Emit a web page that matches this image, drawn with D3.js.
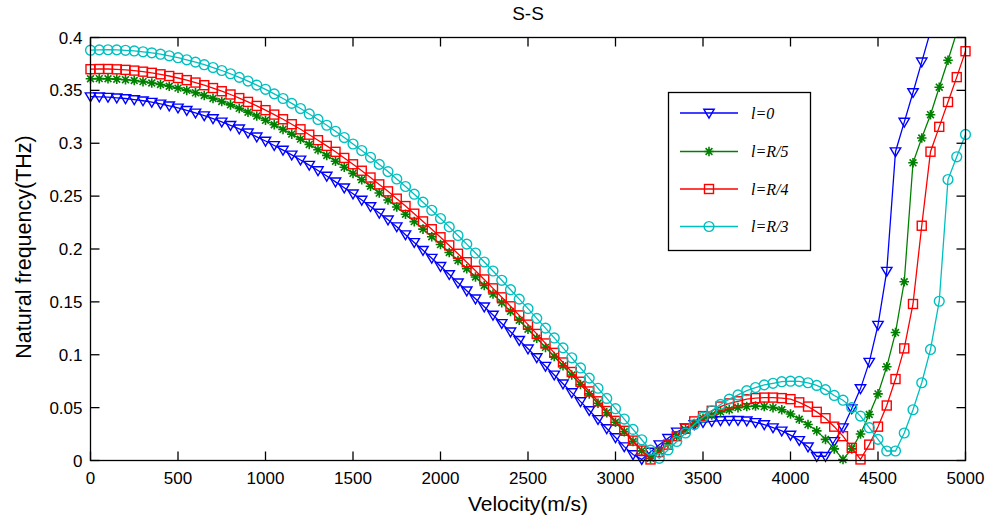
<!doctype html>
<html>
<head>
<meta charset="utf-8">
<style>
  body { margin: 0; background: #fff; }
  svg { display: block; }
  text { font-family: "Liberation Sans", Arial, sans-serif; fill: #000; }
</style>
<script src="https://cdn.jsdelivr.net/npm/d3@7"></script>
</head>
<body>
<script>
// velocity samples (m/s), one marker each
var velocity = [0,50,100,150,200,250,300,350,400,450,500,550,600,650,700,750,800,850,900,950,
  1000,1050,1100,1150,1200,1250,1300,1350,1400,1450,1500,1550,1600,1650,1700,1750,1800,1850,1900,1950,
  2000,2050,2100,2150,2200,2250,2300,2350,2400,2450,2500,2550,2600,2650,2700,2750,2800,2850,2900,2950,
  3000,3050,3100,3150,3200,3250,3300,3350,3400,3450,3500,3550,3600,3650,3700,3750,3800,3850,3900,3950,
  4000,4050,4100,4150,4200,4250,4300,4350,4400,4450,4500,4550,4600,4650,4700,4750,4800,4850,4900,4950,5000];

// natural frequency (THz)
var freqL0 = [0.344,0.3439,0.3436,0.3430,0.3423,0.3413,0.3402,0.3388,0.3372,0.3354,
  0.3334,0.3311,0.3287,0.3261,0.3233,0.3202,0.3170,0.3136,0.3099,0.3061,
  0.3021,0.2979,0.2935,0.2890,0.2842,0.2793,0.2742,0.2690,0.2635,0.2579,
  0.2522,0.2463,0.2402,0.2340,0.2276,0.2211,0.2135,0.2062,0.1988,0.1913,
  0.1836,0.1759,0.1680,0.1605,0.1529,0.1453,0.1375,0.1296,0.1217,0.1137,
  0.1056,0.0974,0.0892,0.0809,0.0725,0.0642,0.0557,0.0473,0.0388,0.0302,
  0.0217,0.0131,0.0056,0.001,
  0.008,0.015,0.021,0.027,0.031,0.034,0.036,0.037,0.0378,0.038,0.038,0.0375,0.036,0.034,0.031,0.028,
  0.024,0.019,0.013,0.004,0.004,0.018,0.031,0.049,0.068,0.093,0.128,0.179,0.292,0.320,0.348,0.377,0.406];

var freqR5 = [0.361,0.3611,0.3610,0.3606,0.3601,0.3593,0.3583,0.3570,0.3556,0.3539,
  0.3521,0.3500,0.3477,0.3452,0.3424,0.3395,0.3363,0.3330,0.3294,0.3257,
  0.3217,0.3175,0.3131,0.3086,0.3039,0.2989,0.2938,0.2885,0.2830,0.2773,
  0.2715,0.2655,0.2593,0.2529,0.2464,0.2397,0.2329,0.2259,0.2188,0.2116,
  0.2042,0.1967,0.1891,0.1813,0.1735,0.1655,0.1574,0.1493,0.1410,0.1326,
  0.1241,0.1156,0.1070,0.0984,0.0896,0.0808,0.0719,0.0630,0.0542,0.0452,
  0.0362,0.0272,0.0181,0.0091,0.002,
  0.009,0.016,0.023,0.029,0.035,0.040,0.043,0.046,0.048,0.050,0.051,0.0515,0.051,0.050,0.048,
  0.044,0.039,0.034,0.028,0.020,0.011,0.001,0.011,0.025,0.0435,0.063,0.0886,0.121,0.169,0.2815,
  0.305,0.327,0.353,0.3785,0.405];

var freqR4 = [0.370,0.3702,0.3702,0.3699,0.3694,0.3687,0.3677,0.3666,0.3652,0.3636,
  0.3617,0.3597,0.3574,0.3549,0.3522,0.3492,0.3461,0.3427,0.3391,0.3353,
  0.3313,0.3271,0.3227,0.3180,0.3132,0.3081,0.3029,0.2975,0.2919,0.2861,
  0.2801,0.2740,0.2676,0.2611,0.2545,0.2476,0.2406,0.2334,0.2261,0.2187,
  0.2111,0.2034,0.1955,0.1875,0.1794,0.1712,0.1628,0.1543,0.1458,0.1372,
  0.1285,0.1197,0.1107,0.1018,0.0927,0.0837,0.0745,0.0653,0.0560,0.0468,
  0.0375,0.0281,0.0188,0.0094,0.001,
  0.008,0.015,0.023,0.030,0.037,0.042,0.047,0.051,0.054,0.056,0.058,0.059,0.0595,0.0595,0.059,
  0.058,0.055,0.051,0.046,0.040,0.032,0.023,0.012,0.001,0.015,0.032,0.052,0.077,0.106,0.148,
  0.222,0.292,0.3155,0.339,0.3625,0.387];

var freqR3 = [0.388,0.3883,0.3884,0.3883,0.3879,0.3873,0.3865,0.3855,0.3842,0.3827,
  0.3809,0.3789,0.3767,0.3743,0.3716,0.3688,0.3657,0.3623,0.3588,0.3550,
  0.3510,0.3467,0.3423,0.3377,0.3328,0.3277,0.3225,0.3170,0.3113,0.3054,
  0.2993,0.2931,0.2867,0.2800,0.2732,0.2662,0.2591,0.2518,0.2443,0.2366,
  0.2288,0.2209,0.2128,0.2046,0.1962,0.1877,0.1792,0.1704,0.1615,0.1526,
  0.1436,0.1344,0.1252,0.1159,0.1065,0.0971,0.0875,0.0779,0.0683,0.0587,
  0.0490,0.0392,0.0294,0.0196,0.0098,0.002,
  0.010,0.018,0.026,0.034,0.041,0.047,0.053,0.058,0.062,0.066,0.069,0.0715,0.073,0.0745,
  0.075,0.0748,0.0735,0.071,0.067,0.0615,0.057,0.050,0.042,0.031,0.020,0.009,0.009,0.026,
  0.048,0.0735,0.105,0.1506,0.2657,0.2872,0.3083];

var seriesNames = ["l=0", "l=R/5", "l=R/4", "l=R/3"];
var xTicks = [0,500,1000,1500,2000,2500,3000,3500,4000,4500,5000];
var yTicks = [0,0.05,0.1,0.15,0.2,0.25,0.3,0.35,0.4];
var yTickLabels = ["0","0.05","0.1","0.15","0.2","0.25","0.3","0.35","0.4"];

(function() {
  var W = 987, H = 521;
  var pLeft = 90.5, pRight = 965.5, pTop = 37.5, pBottom = 460.5;

  var svg = d3.select("body").append("svg")
    .attr("width", W).attr("height", H);

  var x = d3.scaleLinear().domain([0, 5000]).range([pLeft, pRight]);
  var y = d3.scaleLinear().domain([0, 0.4]).range([pBottom, pTop]);

  var series = [
    { name: seriesNames[0], values: freqL0, color: "#0000ff", marker: "tri" },
    { name: seriesNames[1], values: freqR5, color: "#008000", marker: "star" },
    { name: seriesNames[2], values: freqR4, color: "#ff0000", marker: "square" },
    { name: seriesNames[3], values: freqR3, color: "#00bfbf", marker: "circle" }
  ];

  svg.append("defs").append("clipPath").attr("id", "plotclip")
    .append("rect").attr("x", pLeft).attr("y", pTop)
    .attr("width", pRight - pLeft).attr("height", pBottom - pTop);

  // draws one marker shape into a group
  function drawMarker(g, type, color) {
    if (type === "tri") {
      g.append("path").attr("d", "M-5.2,-3.8L5.2,-3.8L0,5Z")
        .attr("fill", "none").attr("stroke", color).attr("stroke-width", 1.4);
    } else if (type === "square") {
      g.append("rect").attr("x", -4.5).attr("y", -4.5).attr("width", 9).attr("height", 9)
        .attr("fill", "none").attr("stroke", color).attr("stroke-width", 1.4);
    } else if (type === "circle") {
      g.append("circle").attr("r", 4.9)
        .attr("fill", "none").attr("stroke", color).attr("stroke-width", 1.4);
    } else {
      g.append("path").attr("d", "M-4.8,0L4.8,0M0,-4.8L0,4.8M-3.4,-3.4L3.4,3.4M-3.4,3.4L3.4,-3.4")
        .attr("stroke", color).attr("stroke-width", 1.6);
    }
  }

  var line = d3.line()
    .x(function(d) { return x(d[0]); })
    .y(function(d) { return y(d[1]); });

  series.forEach(function(s) {
    var pts = s.values.map(function(v, i) { return [velocity[i], v]; });
    svg.append("path")
      .attr("clip-path", "url(#plotclip)")
      .attr("d", line(pts))
      .attr("fill", "none")
      .attr("stroke", s.color)
      .attr("stroke-width", 1.3);
    var mk = svg.append("g");
    pts.filter(function(p) { return p[1] <= 0.4; }).forEach(function(p) {
      var g = mk.append("g").attr("transform", "translate(" + x(p[0]) + "," + y(p[1]) + ")");
      drawMarker(g, s.marker, s.color);
    });
  });

  // axes box with inward ticks on all four sides
  var tickLen = 9;
  var axes = svg.append("g").attr("stroke", "#000").attr("stroke-width", 1.3);
  axes.append("rect").attr("x", pLeft).attr("y", pTop)
    .attr("width", pRight - pLeft).attr("height", pBottom - pTop).attr("fill", "none");
  xTicks.forEach(function(t) {
    axes.append("line").attr("x1", x(t)).attr("x2", x(t)).attr("y1", pBottom).attr("y2", pBottom - tickLen);
    axes.append("line").attr("x1", x(t)).attr("x2", x(t)).attr("y1", pTop).attr("y2", pTop + tickLen);
  });
  yTicks.forEach(function(t) {
    axes.append("line").attr("x1", pLeft).attr("x2", pLeft + tickLen).attr("y1", y(t)).attr("y2", y(t));
    axes.append("line").attr("x1", pRight).attr("x2", pRight - tickLen).attr("y1", y(t)).attr("y2", y(t));
  });

  svg.append("g").selectAll("text").data(xTicks).enter().append("text")
    .attr("x", function(d) { return x(d); })
    .attr("y", 484)
    .attr("text-anchor", "middle")
    .style("font-size", "17px")
    .text(function(d) { return d; });

  svg.append("g").selectAll("text").data(yTicks).enter().append("text")
    .attr("x", pLeft - 8)
    .attr("y", function(d) { return y(d) + 6; })
    .attr("text-anchor", "end")
    .style("font-size", "17px")
    .text(function(d, i) { return yTickLabels[i]; });

  svg.append("text").attr("x", (pLeft + pRight) / 2).attr("y", 511)
    .attr("text-anchor", "middle").style("font-size", "21px").text("Velocity(m/s)");

  svg.append("text").attr("transform", "translate(31,247) rotate(-90)")
    .attr("text-anchor", "middle").style("font-size", "21.5px").text("Natural frequency(THz)");

  svg.append("text").attr("x", (pLeft + pRight) / 2).attr("y", 20)
    .attr("text-anchor", "middle").style("font-size", "19px").text("S-S");

  // legend
  var leg = svg.append("g");
  leg.append("rect").attr("x", 668.5).attr("y", 92.5).attr("width", 142).attr("height", 158)
    .attr("fill", "#fff").attr("stroke", "#000").attr("stroke-width", 1.3);
  var rowY = [113, 151.5, 189, 226.5];
  series.forEach(function(s, i) {
    leg.append("line").attr("x1", 680).attr("x2", 738).attr("y1", rowY[i]).attr("y2", rowY[i])
      .attr("stroke", s.color).attr("stroke-width", 1.3);
    var g = leg.append("g").attr("transform", "translate(709," + rowY[i] + ")");
    drawMarker(g, s.marker, s.color);
    leg.append("text").attr("x", 751).attr("y", rowY[i] + 5.5)
      .style("font-family", "'Liberation Serif', 'Times New Roman', serif")
      .style("font-style", "italic").style("font-size", "16px")
      .text(s.name);
  });
})();
</script>
</body>
</html>
